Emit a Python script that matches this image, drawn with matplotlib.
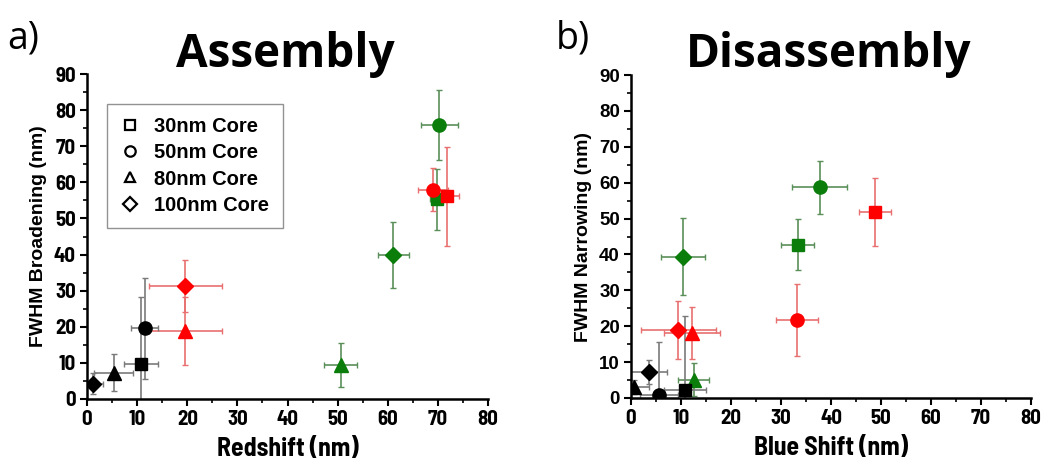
import matplotlib
matplotlib.use("Agg")
import matplotlib.pyplot as plt
from matplotlib.lines import Line2D
from matplotlib.ticker import MultipleLocator

# ---------------- data ----------------
# Assembly panel (a): redshift vs FWHM broadening
a_black_x = [10.8, 11.5, 5.3, 1.1]
a_black_y = [9.7, 19.6, 7.3, 4.2]
a_black_xerr = [3.4, 2.7, 3.9, 2.0]
a_black_yerr = [18.6, 14.0, 5.1, 2.9]

a_red_x = [71.8, 69.0, 19.6, 19.6]
a_red_y = [56.2, 58.0, 18.9, 31.4]
a_red_xerr = [2.5, 3.0, 7.3, 7.3]
a_red_yerr = [13.7, 6.0, 9.4, 7.2]

a_green_x = [69.9, 70.3, 50.6, 61.1]
a_green_y = [55.3, 76.0, 9.4, 39.9]
a_green_xerr = [1.5, 3.7, 3.3, 3.1]
a_green_yerr = [8.5, 9.7, 6.0, 9.2]

# Disassembly panel (b): blue shift vs FWHM narrowing
b_black_x = [10.7, 5.5, 0.5, 3.5]
b_black_y = [2.1, 0.9, 3.1, 7.2]
b_black_xerr = [4.2, 3.8, 3.0, 3.7]
b_black_yerr = [20.8, 14.6, 2.0, 3.4]

b_red_x = [48.7, 33.2, 12.2, 9.4]
b_red_y = [51.8, 21.8, 18.1, 19.0]
b_red_xerr = [3.2, 4.2, 5.6, 7.5]
b_red_yerr = [9.5, 10.0, 7.2, 8.0]

b_green_x = [33.3, 37.7, 12.5, 10.4]
b_green_y = [42.7, 58.7, 5.1, 39.4]
b_green_xerr = [3.3, 5.5, 3.1, 4.4]
b_green_yerr = [7.1, 7.4, 4.6, 10.7]

core_labels = ["30nm Core", "50nm Core", "80nm Core", "100nm Core"]
core_markers = ["s", "o", "^", "D"]
marker_sizes = [8.5, 9.5, 9.5, 8.0]

series_colors = {"black": ("#000000", "#7a7a7a"),
                 "red": ("#ff0000", "#e87070"),
                 "green": ("#0a7d0a", "#5a8f5a")}

narrow = ["Barlow Semi Condensed", "DejaVu Sans"]
wide = ["Liberation Sans", "DejaVu Sans"]
title_font = ["Open Sans", "DejaVu Sans"]

fig = plt.figure(figsize=(10.5, 4.76), dpi=100)
axA = fig.add_axes([0.0829, 0.1618, 0.3819, 0.6827])
axB = fig.add_axes([0.6010, 0.1639, 0.3810, 0.6785])


def draw_series(ax, xs, ys, xe, ye, key):
    fc, ec = series_colors[key]
    for i in range(len(xs)):
        ax.errorbar(xs[i], ys[i], xerr=xe[i], yerr=ye[i], fmt="none",
                    ecolor=ec, elinewidth=1.2, capsize=2.2, capthick=1.0,
                    zorder=2)
        ax.plot(xs[i], ys[i], linestyle="none", marker=core_markers[i],
                markersize=marker_sizes[i], color=fc, markeredgecolor=fc,
                zorder=3)


draw_series(axA, a_green_x, a_green_y, a_green_xerr, a_green_yerr, "green")
draw_series(axA, a_red_x, a_red_y, a_red_xerr, a_red_yerr, "red")
draw_series(axA, a_black_x, a_black_y, a_black_xerr, a_black_yerr, "black")

draw_series(axB, b_green_x, b_green_y, b_green_xerr, b_green_yerr, "green")
draw_series(axB, b_red_x, b_red_y, b_red_xerr, b_red_yerr, "red")
draw_series(axB, b_black_x, b_black_y, b_black_xerr, b_black_yerr, "black")

panels = [(axA, "Redshift (nm)", "FWHM Broadening (nm)", narrow, 15),
          (axB, "Blue Shift (nm)", "FWHM Narrowing (nm)", wide, 13.5)]
for ax, xl, yl, ytickfont, ysize in panels:
    ax.set_xlim(0, 80)
    ax.set_ylim(0, 90)
    ax.xaxis.set_major_locator(MultipleLocator(10))
    ax.xaxis.set_minor_locator(MultipleLocator(5))
    ax.yaxis.set_major_locator(MultipleLocator(10))
    ax.yaxis.set_minor_locator(MultipleLocator(5))
    for s in ["top", "right"]:
        ax.spines[s].set_visible(False)
    for s in ["left", "bottom"]:
        ax.spines[s].set_linewidth(1.8)
    ax.tick_params(which="major", direction="out", length=5, width=1.5, pad=3)
    ax.tick_params(which="minor", direction="out", length=3, width=1.2)
    ax.set_xlabel(xl, fontsize=18.5, fontweight="bold", family=narrow, labelpad=6)
    ax.set_ylabel(yl, fontsize=14, fontweight="bold", family=wide, labelpad=5)

fig.canvas.draw()
for ax, xl, yl, ytickfont, ysize in panels:
    for lab in ax.get_xticklabels():
        lab.set_fontfamily(narrow)
        lab.set_fontweight("bold")
        lab.set_fontsize(15)
    for lab in ax.get_yticklabels():
        lab.set_fontfamily(ytickfont)
        lab.set_fontweight("bold")
        lab.set_fontsize(ysize)

# legend with open markers
handles = [Line2D([], [], linestyle="none", marker=m, markersize=7.5,
                  markerfacecolor="white", markeredgecolor="black",
                  markeredgewidth=1.6) for m in core_markers]
leg = axA.legend(handles, core_labels, loc="upper left",
                 bbox_to_anchor=(0.05, 0.908), borderaxespad=0.0,
                 frameon=True, fancybox=False,
                 edgecolor="#777777", handletextpad=0.7, labelspacing=0.36,
                 borderpad=0.65, handlelength=1.0,
                 prop={"family": wide, "weight": "bold", "size": 14.5})
leg.get_frame().set_linewidth(1.0)

# panel labels and titles
fig.text(0.007, 0.92, "a)", fontsize=27, family=title_font, ha="left", va="center")
fig.text(0.529, 0.92, "b)", fontsize=27, family=title_font, ha="left", va="center")
fig.text(0.272, 0.885, "Assembly", fontsize=33, fontweight="bold",
         family=title_font, ha="center", va="center")
fig.text(0.789, 0.885, "Disassembly", fontsize=33, fontweight="bold",
         family=title_font, ha="center", va="center")

fig.savefig("out.png", dpi=100)
